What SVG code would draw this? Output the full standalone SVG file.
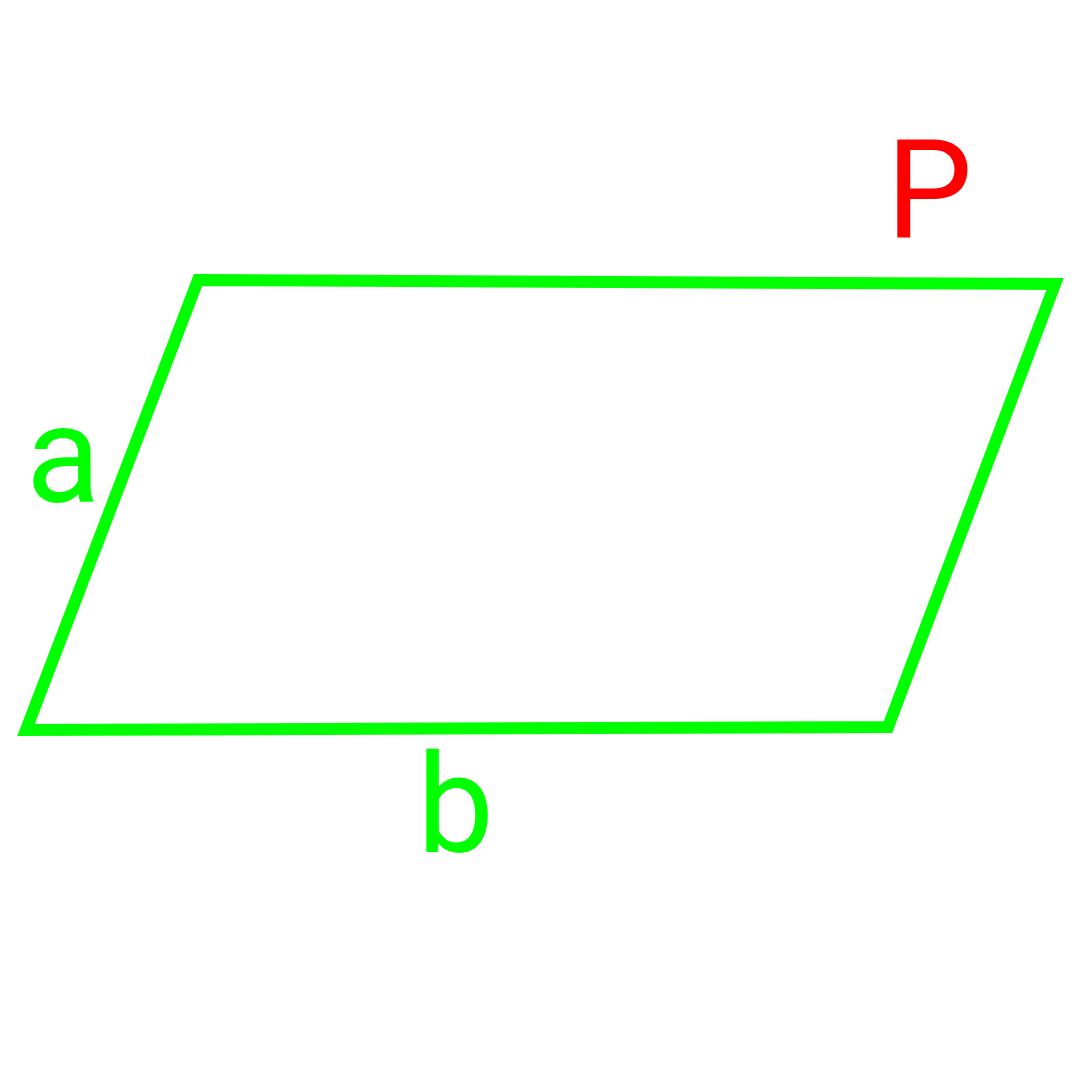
<svg xmlns="http://www.w3.org/2000/svg" width="1080" height="1080" viewBox="0 0 1080 1080">
<style>
.lbl{font-family:Roboto,"Liberation Sans",sans-serif;font-size:137px}
.g{fill:#00ff00}
.r{fill:#ff0000}
</style>
<rect width="1080" height="1080" fill="#ffffff"/>
<g id="parallelogram">
<polygon points="198,280 1055,284 888,727 26,730" fill="none" stroke="#00ff00" stroke-width="12" stroke-linejoin="miter"/>
</g>
<g id="labels">
<text class="lbl r" x="886" y="237">P</text>
<text class="lbl g" x="26" y="502">a</text>
<text class="lbl g" x="417" y="852">b</text>
</g>
</svg>
